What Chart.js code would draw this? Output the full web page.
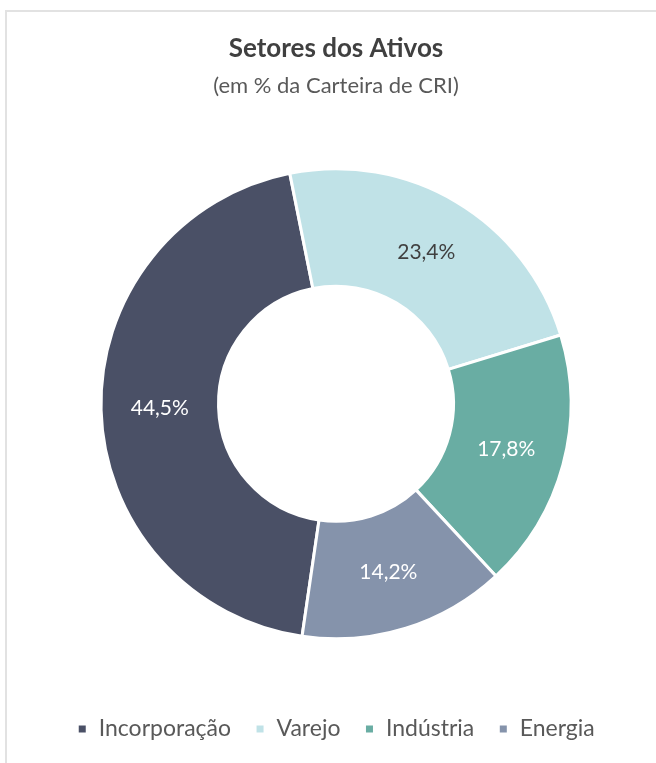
<!DOCTYPE html>
<html>
<head>
<meta charset="utf-8">
<script src="https://cdn.jsdelivr.net/npm/chart.js@4.4.1/dist/chart.umd.min.js"></script>
<style>
  html, body { margin: 0; padding: 0; background: #fff; overflow: hidden; }
  #frame { position: absolute; left: 5px; top: 10px; width: 700px; height: 800px;
           border-top: 2px solid #e2e2e2; border-left: 2px solid #e2e2e2; }
  canvas { position: absolute; left: 0; top: 0; }
</style>
</head>
<body>
<div id="frame"></div>
<canvas id="setoresChart" width="656" height="763"></canvas>
<script>
// Chart data
const categories = ['Incorporação', 'Varejo', 'Indústria', 'Energia'];
const shares = [44.5, 23.4, 17.8, 14.2];

const sliceColors = ['#4a5066', '#c0e2e7', '#69ada3', '#8593ab'];
const labelColors = ['#ffffff', '#404040', '#ffffff', '#ffffff'];
const fontFamily = 'Lato, "Open Sans", sans-serif';

// draws the % value in the middle of each slice
const sliceLabels = {
  id: 'sliceLabels',
  afterDatasetsDraw(chart) {
    const ctx = chart.ctx;
    const meta = chart.getDatasetMeta(0);
    ctx.save();
    ctx.font = '21px ' + fontFamily;
    ctx.textAlign = 'center';
    ctx.textBaseline = 'middle';
    meta.data.forEach((arc, i) => {
      const p = arc.getProps(['x', 'y', 'startAngle', 'endAngle', 'innerRadius', 'outerRadius'], true);
      const a = (p.startAngle + p.endAngle) / 2;
      const r = (p.innerRadius + p.outerRadius) / 2;
      ctx.fillStyle = labelColors[i];
      ctx.fillText(shares[i].toFixed(1).replace('.', ',') + '%', p.x + Math.cos(a) * r, p.y + Math.sin(a) * r);
    });
    ctx.restore();
  }
};

const ctx = document.getElementById('setoresChart').getContext('2d');
new Chart(ctx, {
  type: 'doughnut',
  data: {
    labels: categories,
    datasets: [{
      data: shares,
      backgroundColor: sliceColors,
      borderColor: '#ffffff',
      borderWidth: 3,
      hoverOffset: 0
    }]
  },
  options: {
    responsive: false,
    animation: false,
    rotation: -171.7,
    radius: 235,
    cutout: '50%',
    layout: { padding: { left: 16, right: 0, top: 0, bottom: 12.5 } },
    plugins: {
      title: {
        display: true,
        text: 'Setores dos Ativos',
        color: '#404040',
        font: { family: fontFamily, size: 26, weight: 'bold' },
        padding: { top: 33.4, bottom: 0 }
      },
      subtitle: {
        display: true,
        text: '(em % da Carteira de CRI)',
        color: '#595959',
        font: { family: fontFamily, size: 22 },
        padding: { top: 8.2, bottom: 14.8 }
      },
      legend: {
        position: 'bottom',
        labels: {
          boxWidth: 10,
          boxHeight: 10,
          padding: 24,
          color: '#595959',
          font: { family: fontFamily, size: 23 }
        }
      },
      tooltip: { enabled: false }
    }
  },
  plugins: [sliceLabels]
});
</script>
</body>
</html>
